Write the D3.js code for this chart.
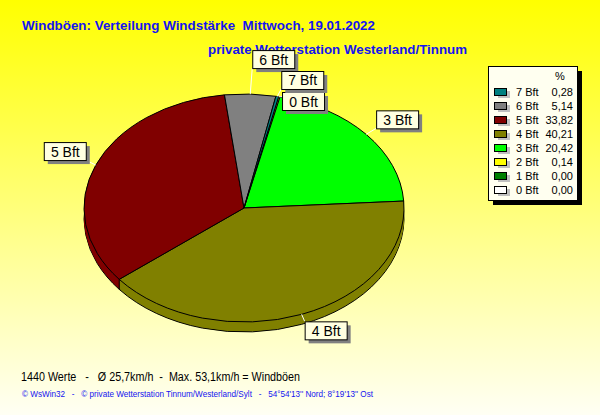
<!DOCTYPE html>
<html><head><meta charset="utf-8">
<script src="https://cdn.jsdelivr.net/npm/d3@7"></script>
<style>html,body{margin:0;padding:0;background:#fff;}svg{display:block;font-family:Arial,"Liberation Sans",sans-serif;}text{white-space:pre;}</style>
</head><body>
<script>
// ---- data ----
const categories = ["0 Bft","1 Bft","2 Bft","3 Bft","4 Bft","5 Bft","6 Bft","7 Bft"];
const percents   = [0.00, 0.00, 0.14, 20.42, 40.21, 33.82, 5.14, 0.28];
const colors     = ["#FFFFFF","#008000","#FFFF00","#00FF00","#808000","#800000","#808080","#008080"];
const labeled    = ["0 Bft","3 Bft","4 Bft","5 Bft","6 Bft","7 Bft"];
const legendOrder = ["7 Bft","6 Bft","5 Bft","4 Bft","3 Bft","2 Bft","1 Bft","0 Bft"];
const titleText = "Windböen: Verteilung Windstärke  Mittwoch, 19.01.2022";
const subtitleText = "private Wetterstation Westerland/Tinnum";
const footer1 = "1440 Werte   -   Ø 25,7km/h  -  Max. 53,1km/h = Windböen";
const footer2 = "© WsWin32   -   © private Wetterstation Tinnum/Westerland/Sylt   -   54°54'13'' Nord; 8°19'13'' Ost";

// ---- layout ----
const W = 600, H = 415;
const cx = 244, cy = 208, rx = 160, ry = 114, depth = 10;
const startDeg = 12.5;
const labelOffsets = { // box top-left relative to anchor on the rim
  "6 Bft": [2, -44], "7 Bft": [4, -25.5], "0 Bft": [3.4, -4.7],
  "3 Bft": [10, -24], "5 Bft": [-52, -23], "4 Bft": [3, 7]
};

const svg = d3.select("body").append("svg").attr("width", W).attr("height", H);
const defs = svg.append("defs");
const grad = defs.append("linearGradient").attr("id","bg").attr("x1",0).attr("y1",0).attr("x2",0).attr("y2",1);
grad.append("stop").attr("offset","0%").attr("stop-color","#FFFF00");
grad.append("stop").attr("offset","100%").attr("stop-color","#FFFFF4");
svg.append("rect").attr("width",W).attr("height",H).attr("fill","url(#bg)");

// ---- title ----
svg.append("text").attr("x",22).attr("y",30).attr("fill","#1414F0")
  .attr("font-size",13).attr("font-weight","bold").attr("textLength",353).attr("lengthAdjust","spacingAndGlyphs").text(titleText);
svg.append("text").attr("x",208).attr("y",54).attr("fill","#1414F0")
  .attr("font-size",13).attr("font-weight","bold").attr("textLength",259).attr("lengthAdjust","spacingAndGlyphs").text(subtitleText);

// ---- pie ----
const data = categories.map((c,i)=>({cat:c, value:percents[i], color:colors[i]}));
const s0 = startDeg*Math.PI/180;
const pie = d3.pie().sort(null).value(d=>d.value).startAngle(s0).endAngle(s0+2*Math.PI);
const arcs = pie(data);
const arc = d3.arc().innerRadius(0).outerRadius(rx);
const k = ry/rx;

function layer(dy, stroke){
  const g = svg.append("g").attr("transform",`translate(${cx},${cy+dy}) scale(1,${k})`);
  g.selectAll("path").data(arcs.filter(a=>a.value>0 || stroke)).join("path")
    .attr("d", arc).attr("fill", d=>d.data.color)
    .attr("stroke", stroke ? "#000" : "none").attr("stroke-width",1)
    .attr("vector-effect","non-scaling-stroke");
  return g;
}
layer(depth, true);
for (let i = depth-1; i >= 1; i--) layer(i, false);
// vertical edges at front boundaries
const rimPt = (a, dy=0) => [cx + rx*Math.sin(a), cy + dy - ry*Math.cos(a)];
arcs.forEach(a=>{
  const ang = ((a.endAngle % (2*Math.PI)) + 2*Math.PI) % (2*Math.PI);
  if (a.value>0 && ang > Math.PI/2 && ang < 3*Math.PI/2){
    const p = rimPt(ang), q = rimPt(ang, depth);
    svg.append("line").attr("x1",p[0]).attr("y1",p[1]).attr("x2",q[0]).attr("y2",q[1]).attr("stroke","#000");
  }
});
layer(0, true);

// ---- labels ----
arcs.filter(a=>labeled.includes(a.data.cat)).forEach(a=>{
  const mid = (a.startAngle + a.endAngle)/2;
  const [ax, ay] = rimPt(mid);
  const off = labelOffsets[a.data.cat];
  const bw = 42, bh = 18;
  const bx = ax + off[0], by = ay + off[1];
  const lx = Math.max(bx, Math.min(ax, bx+bw)), ly = Math.max(by, Math.min(ay, by+bh));
  svg.append("line").attr("x1",ax).attr("y1",ay).attr("x2",lx).attr("y2",ly).attr("stroke","#fff");
  svg.append("rect").attr("x",bx+4).attr("y",by+4).attr("width",bw).attr("height",bh).attr("fill","#808080");
  svg.append("rect").attr("x",bx+0.5).attr("y",by+0.5).attr("width",bw).attr("height",bh).attr("fill","#FFFFE1").attr("stroke","#000");
  svg.append("text").attr("x",bx+bw/2+0.5).attr("y",by+bh/2+5.5).attr("text-anchor","middle")
    .attr("font-size",14).attr("fill","#000").text(a.data.cat);
});

// ---- legend ----
const lg = svg.append("g");
lg.append("rect").attr("x",493).attr("y",71).attr("width",89).attr("height",134).attr("fill","#000");
lg.append("rect").attr("x",488.5).attr("y",66.5).attr("width",89).attr("height",134).attr("fill","#FFFFF0").attr("stroke","#000");
lg.append("text").attr("x",560).attr("y",80).attr("text-anchor","middle").attr("font-size",11).text("%");
const rowY = d3.scalePoint().domain(legendOrder).range([92,190]);
legendOrder.forEach(c=>{
  const i = categories.indexOf(c), y = rowY(c);
  lg.append("rect").attr("x",498).attr("y",y-1).attr("width",12).attr("height",7).attr("fill","#C0C0C0");
  lg.append("rect").attr("x",494.5).attr("y",y-3.5).attr("width",12).attr("height",7).attr("fill",colors[i]).attr("stroke","#000");
  lg.append("text").attr("x",516).attr("y",y+4).attr("font-size",11).text(c);
  lg.append("text").attr("x",573).attr("y",y+4).attr("text-anchor","end").attr("font-size",11)
    .text(percents[i].toFixed(2).replace(".",","));
});

// ---- footer ----
svg.append("text").attr("x",21).attr("y",381).attr("font-size",12).attr("fill","#000")
  .attr("textLength",279).attr("lengthAdjust","spacingAndGlyphs").text(footer1);
svg.append("text").attr("x",22).attr("y",397).attr("font-size",9).attr("fill","#1414F0")
  .attr("textLength",351).attr("lengthAdjust","spacingAndGlyphs").text(footer2);
</script>
</body></html>
